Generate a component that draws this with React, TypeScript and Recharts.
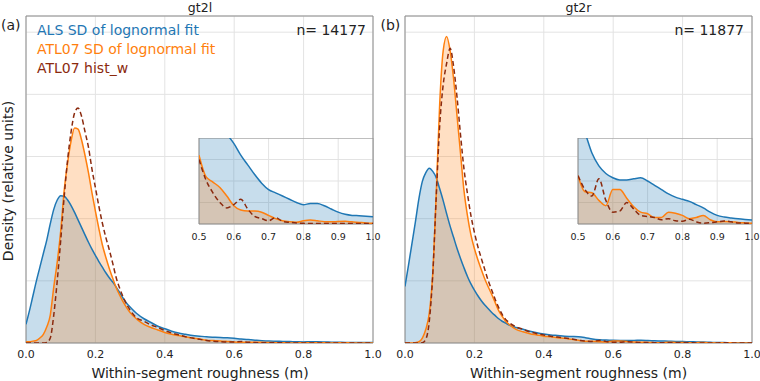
import { ComposedChart, Area, Line, XAxis, YAxis, CartesianGrid, ReferenceArea } from 'recharts'

// roughness (m) sample points shared by all curves
const roughness = [
  0, 0.01, 0.02, 0.03, 0.04, 0.05, 0.06, 0.07, 0.08, 0.09,
  0.1, 0.11, 0.12, 0.13, 0.14, 0.15, 0.16, 0.17, 0.18, 0.19,
  0.2, 0.21, 0.22, 0.23, 0.24, 0.25, 0.26, 0.27, 0.28, 0.29,
  0.3, 0.32, 0.34, 0.36, 0.38, 0.4, 0.42, 0.44, 0.46, 0.48,
  0.5, 0.52, 0.54, 0.56, 0.58, 0.6, 0.62, 0.64, 0.66, 0.68,
  0.7, 0.72, 0.74, 0.76, 0.78, 0.8, 0.82, 0.84, 0.86, 0.88,
  0.9, 0.92, 0.94, 0.96, 0.98, 1.0,
]

// gt2l
const alsA = [
  0.3, 0.52, 0.76, 1.0, 1.22, 1.44, 1.66, 1.92, 2.15, 2.3,
  2.37, 2.36, 2.3, 2.21, 2.1, 1.98, 1.86, 1.74, 1.62, 1.51,
  1.41, 1.31, 1.22, 1.13, 1.05, 0.98, 0.9, 0.81, 0.72, 0.64,
  0.58, 0.47, 0.39, 0.33, 0.27, 0.23, 0.19, 0.16, 0.14, 0.12,
  0.11, 0.1, 0.093, 0.087, 0.083, 0.075, 0.064, 0.055, 0.046, 0.038,
  0.032, 0.029, 0.026, 0.023, 0.02, 0.018, 0.019, 0.019, 0.017, 0.014,
  0.011, 0.009, 0.008, 0.0077, 0.0073, 0.0068,
]
const atlA = [
  0.02, 0.02, 0.03, 0.04, 0.08, 0.14, 0.26, 0.45, 0.9, 1.3,
  1.8, 2.45, 2.9, 3.25, 3.46, 3.44, 3.27, 3.02, 2.74, 2.42,
  2.12, 1.84, 1.58, 1.38, 1.2, 1.04, 0.89, 0.77, 0.66, 0.57,
  0.49, 0.38, 0.3, 0.25, 0.21, 0.17, 0.14, 0.12, 0.1, 0.08,
  0.064, 0.044, 0.039, 0.034, 0.026, 0.017, 0.013, 0.012, 0.012, 0.011,
  0.008, 0.005, 0.003, 0.002, 0.0016, 0.003, 0.0037, 0.003, 0.0022, 0.002,
  0.0024, 0.0025, 0.002, 0.0015, 0.001, 0.0007,
]
const histA = [
  0, 0, 0, 0, 0, 0, 0.01, 0.08, 0.45, 1.0,
  1.65, 2.35, 2.95, 3.4, 3.7, 3.78, 3.65, 3.4, 3.15, 2.8,
  2.5, 2.2, 1.93, 1.7, 1.5, 1.28, 1.05, 0.88, 0.74, 0.62,
  0.53, 0.4, 0.35, 0.29, 0.25, 0.2, 0.16, 0.13, 0.1, 0.08,
  0.06, 0.041, 0.029, 0.02, 0.015, 0.018, 0.023, 0.014, 0.007, 0.005,
  0.003, 0.006, 0.0025, 0.0015, 0.001, 0.0006, 0.0005, 0.0005, 0.0005, 0.0005,
  0.0005, 0.0005, 0.0005, 0.0005, 0.0005, 0.0005,
]

// gt2r
const alsB = [
  0.91, 1.25, 1.6, 1.95, 2.32, 2.6, 2.74, 2.81, 2.76, 2.66,
  2.48, 2.29, 2.08, 1.88, 1.7, 1.52, 1.36, 1.21, 1.07, 0.95,
  0.85, 0.76, 0.68, 0.61, 0.55, 0.49, 0.44, 0.39, 0.35, 0.32,
  0.29, 0.25, 0.22, 0.19, 0.165, 0.145, 0.13, 0.12, 0.11, 0.105,
  0.1, 0.085, 0.066, 0.054, 0.047, 0.043, 0.041, 0.041, 0.042, 0.043,
  0.04, 0.036, 0.032, 0.028, 0.025, 0.023, 0.021, 0.018, 0.015, 0.011,
  0.008, 0.0065, 0.0056, 0.0048, 0.0042, 0.0037,
]
const atlB = [
  0, 0, 0, 0.005, 0.02, 0.08, 0.22, 0.48, 1.12, 2.41,
  3.85, 4.7, 4.93, 4.7, 4.25, 3.65, 3.05, 2.45, 2.05, 1.74,
  1.52, 1.34, 1.18, 1.03, 0.9, 0.78, 0.65, 0.52, 0.43, 0.35,
  0.3, 0.22, 0.18, 0.15, 0.13, 0.11, 0.1, 0.085, 0.075, 0.06,
  0.045, 0.03, 0.029, 0.022, 0.017, 0.032, 0.032, 0.024, 0.016, 0.011,
  0.0095, 0.006, 0.006, 0.011, 0.01, 0.008, 0.005, 0.006, 0.008, 0.004,
  0.002, 0.0023, 0.0022, 0.0014, 0.001, 0.0007,
]
const histB = [
  0, 0, 0, 0, 0, 0.005, 0.06, 0.35, 1.1, 2.35,
  3.5, 4.15, 4.5, 4.74, 4.45, 3.95, 3.35, 2.8, 2.4, 2.05,
  1.78, 1.55, 1.36, 1.18, 1.0, 0.85, 0.7, 0.57, 0.46, 0.38,
  0.33, 0.26, 0.22, 0.18, 0.15, 0.13, 0.11, 0.095, 0.08, 0.065,
  0.045, 0.032, 0.026, 0.042, 0.022, 0.011, 0.012, 0.02, 0.014, 0.008,
  0.007, 0.006, 0.004, 0.005, 0.003, 0.0025, 0.0045, 0.002, 0.0007, 0.0012,
  0.002, 0.0028, 0.002, 0.001, 0.0008, 0.0007,
]

const xTicks = [0, 0.2, 0.4, 0.6, 0.8, 1.0]
const yTicks = [0, 1, 2, 3, 4, 5]
const yTop = 5.26
const insetXTicks = [0.5, 0.6, 0.7, 0.8, 0.9, 1.0]
const insetYTicks = [0, 0.02, 0.04, 0.06, 0.08]

const legendLabels = ['ALS SD of lognormal fit', 'ATL07 SD of lognormal fit', 'ATL07 hist_w']

const BLUE = '#1f77b4'
const ORANGE = '#ff7f0e'
const BROWN = '#8b2a0e'
const FRAME = '#8c8c8c'
const GRID = '#e3e3e3'
const FONT = '"DejaVu Sans", sans-serif'

type Row = { x: number; als: number; atl: number; hist: number }

function rows(als: number[], atl: number[], hist: number[]): Row[] {
  return roughness.map((x, i) => ({ x, als: als[i], atl: atl[i], hist: hist[i] }))
}

// fills first, then the three lines on top of them
function series() {
  return [
    <Area key="alsF" type="monotone" dataKey="als" stroke="none" fill={BLUE} fillOpacity={0.25} isAnimationActive={false} dot={false} activeDot={false} />,
    <Area key="atlF" type="monotone" dataKey="atl" stroke="none" fill={ORANGE} fillOpacity={0.25} isAnimationActive={false} dot={false} activeDot={false} />,
    <Line key="als" type="monotone" dataKey="als" stroke={BLUE} strokeWidth={1.5} dot={false} activeDot={false} isAnimationActive={false} />,
    <Line key="atl" type="monotone" dataKey="atl" stroke={ORANGE} strokeWidth={1.5} dot={false} activeDot={false} isAnimationActive={false} />,
    <Line key="hist" type="monotone" dataKey="hist" stroke={BROWN} strokeWidth={1.5} strokeDasharray="5 3" dot={false} activeDot={false} isAnimationActive={false} />,
  ]
}

// y tick labels are not shown in the figure; ticks still drive the grid
const NoTick = () => <g />

function axes(xDomain: number[], yDomain: number[], xt: number[], yt: number[], fontSize: number, margin: number) {
  return [
    <XAxis key="x" dataKey="x" type="number" domain={xDomain} ticks={xt} interval={0} allowDataOverflow
      tickFormatter={(v: number) => v.toFixed(1)} tickLine={false} tickSize={0} tickMargin={margin}
      axisLine={false} height={20} tick={{ fill: '#222', fontSize, fontFamily: FONT }} />,
    <YAxis key="y" type="number" domain={yDomain} ticks={yt} interval={0} allowDataOverflow tick={NoTick} tickLine={false} width={0} axisLine={false} />,
    <ReferenceArea key="frame" x1={xDomain[0]} x2={xDomain[1]} y1={yDomain[0]} y2={yDomain[1]} fill="none" stroke={FRAME} strokeWidth={1} ifOverflow="visible" />,
  ]
}

function Panel({ data, left, marginLeft, marginRight, width }: { data: Row[]; left: number; marginLeft: number; marginRight: number; width: number }) {
  return (
    <div style={{ position: 'absolute', left, top: 0 }}>
      <ComposedChart width={width} height={381} data={data} margin={{ top: 16, right: marginRight, bottom: 18, left: marginLeft }}>
        <CartesianGrid stroke={GRID} />
        {series()}
        {axes([0, 1], [0, yTop], xTicks, yTicks, 11, 7)}
      </ComposedChart>
    </div>
  )
}

function Inset({ data, left }: { data: Row[]; left: number }) {
  const tail = data.filter((r) => r.x >= 0.5)
  return (
    <div style={{ position: 'absolute', left, top: 138 }}>
      <ComposedChart width={194} height={106} data={tail} margin={{ top: 0, right: 10, bottom: 0, left: 10 }}>
        <CartesianGrid stroke={GRID} fill="#fff" fillOpacity={1} />
        {series()}
        {axes([0.5, 1], [0, 0.08], insetXTicks, insetYTicks, 9.5, 9)}
      </ComposedChart>
    </div>
  )
}

function Txt({ x, y, children, size = 14, color = '#222', align = 'center', rotate = false }: any) {
  const tx = align === 'center' ? '-50%' : align === 'right' ? '-100%' : '0'
  return (
    <div style={{
      position: 'absolute', left: x, top: y, fontSize: size, color, lineHeight: 1, whiteSpace: 'nowrap',
      transform: `translate(${tx}, -50%)${rotate ? ' rotate(-90deg)' : ''}`,
    }}>
      {children}
    </div>
  )
}

export default function App() {
  const dataA = rows(alsA, atlA, histA)
  const dataB = rows(alsB, atlB, histB)
  return (
    <div style={{ position: 'absolute', left: 0, top: 0, width: 760, height: 381, overflow: 'hidden', background: '#fff', fontFamily: FONT }}>
      <Panel data={dataA} left={0} marginLeft={26} marginRight={17} width={390} />
      <Panel data={dataB} left={380} marginLeft={25} marginRight={8} width={380} />
      <Inset data={dataA} left={189} />
      <Inset data={dataB} left={568} />

      <Txt x={200} y={8} size={12.5}>gt2l</Txt>
      <Txt x={578.5} y={8} size={12.5}>gt2r</Txt>
      <Txt x={1} y={25} align="left">(a)</Txt>
      <Txt x={380.5} y={25} align="left">(b)</Txt>
      <Txt x={37} y={29.5} align="left" color={BLUE}>{legendLabels[0]}</Txt>
      <Txt x={37} y={48.5} align="left" color={ORANGE}>{legendLabels[1]}</Txt>
      <Txt x={37} y={67.5} align="left" color={BROWN}>{legendLabels[2]}</Txt>
      <Txt x={366} y={29.5} align="right">n= 14177</Txt>
      <Txt x={744} y={29.5} align="right">n= 11877</Txt>
      <Txt x={200} y={373}>Within-segment roughness (m)</Txt>
      <Txt x={578.5} y={373}>Within-segment roughness (m)</Txt>
      <Txt x={8} y={181} rotate>Density (relative units)</Txt>
    </div>
  )
}
